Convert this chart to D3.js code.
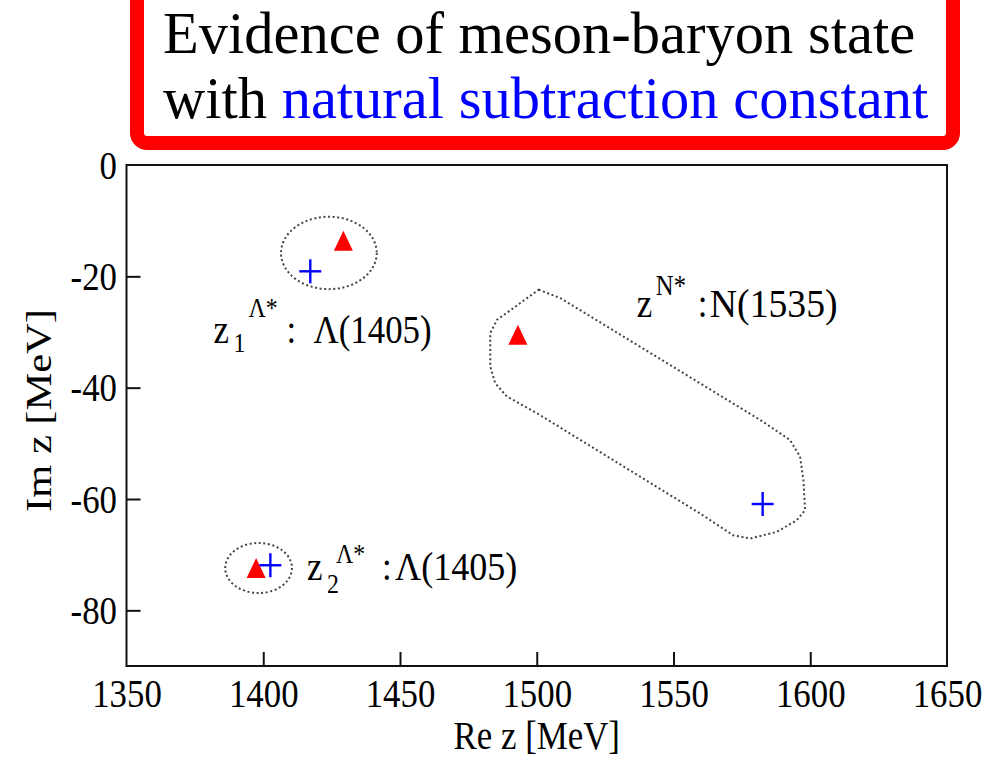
<!DOCTYPE html>
<html>
<head>
<meta charset="utf-8">
<script src="https://cdn.jsdelivr.net/npm/d3@7"></script>
<style>
  html, body { margin: 0; padding: 0; background: #fff; }
  svg { display: block; }
  text { font-family: "Liberation Serif", "Times New Roman", serif; fill: #000; }
</style>
</head>
<body>
<svg id="chart" width="1002" height="757"></svg>
<script>
// Axis ticks
const xTicks = [1350, 1400, 1450, 1500, 1550, 1600, 1650];
const yTicks = [0, -20, -40, -60, -80];

// Pole positions, full model (red triangles) [MeV]
const triRe = [1429.3, 1493.1, 1397.4];
const triIm = [-13.6, -30.5, -72.4];

// Pole positions, natural subtraction constant (blue crosses) [MeV]
const crossRe = [1417.2, 1582.6, 1402.6];
const crossIm = [-19.1, -60.9, -71.9];

// Dotted ellipses grouping the Λ(1405) poles: centre Re, centre Im, half-width, half-height [MeV]
const ellipseRe = [1424.0, 1398.3];
const ellipseIm = [-15.8, -72.4];
const ellipseRx = [17.5, 12.2];
const ellipseRy = [6.5, 4.5];

// Dotted contour enclosing the N(1535) poles [Re, Im] in MeV
const contourRe = [1500.7, 1508.6, 1581.7, 1592.6, 1596.3, 1597.5, 1598.1, 1595.1, 1587.8,
                   1578.0, 1571.8, 1559.7, 1500.1, 1489.1, 1484.8, 1483.0, 1483.0, 1485.5, 1494.0];
const contourIm = [-22.4, -23.9, -45.8, -49.4, -52.4, -56.6, -62.0, -63.8, -65.9,
                   -67.1, -66.5, -62.6, -44.6, -41.6, -39.2, -36.2, -30.2, -27.8, -24.8];

// Pole labels: anchor Re, anchor Im (baseline), subscript, superscript, resonance
const labelRe = [1381.8, 1416.0, 1536.6];
const labelIm = [-32.0, -74.5, -27.25];
const labelSub = ["1", "2", ""];
const labelSup = ["Λ*", "Λ*", "N*"];
const labelName = ["Λ(1405)", "Λ(1405)", "N(1535)"];

const svg = d3.select("#chart");
const sx = 0.85; // horizontal squeeze of the serif glyphs

const x = d3.scaleLinear().domain([1350, 1650]).range([126.5, 947]);
const y = d3.scaleLinear().domain([-90, 0]).range([666, 165]);

// ---- Title box ----
svg.append("rect")
  .attr("x", 137).attr("y", -30)
  .attr("width", 816).attr("height", 173)
  .attr("rx", 10)
  .attr("fill", "#fff")
  .attr("stroke", "#ff0000")
  .attr("stroke-width", 14);

const title = svg.append("g").style("font-size", "58.5px");
title.append("text").attr("x", 163).attr("y", 53).text("Evidence of meson-baryon state");
const t2 = title.append("text").attr("x", 163).attr("y", 118);
t2.append("tspan").text("with ");
t2.append("tspan").style("fill", "#0000ff").text("natural subtraction constant");

// ---- Axes ----
const fmt = d => String(d);
const gx = svg.append("g").attr("transform", `translate(0,${y(-90)})`)
  .call(d3.axisBottom(x).tickValues(xTicks).tickSize(-14).tickPadding(12).tickFormat(fmt));
const gy = svg.append("g").attr("transform", `translate(${x(1350)},0)`)
  .call(d3.axisLeft(y).tickValues(yTicks).tickSize(-14).tickPadding(9.5).tickFormat(fmt));

[gx, gy].forEach(g => {
  g.select(".domain").remove();
  g.selectAll(".tick line").attr("stroke", "#111").attr("stroke-width", 2);
  g.selectAll(".tick text")
    .attr("fill", "#000")
    .style("font-size", "41px")
    .style("font-family", "'Liberation Serif', 'Times New Roman', serif")
    .each(function () {
      const t = d3.select(this);
      const tx = +t.attr("x") || 0;
      t.attr("x", 0).attr("transform", `translate(${tx},0) scale(${sx},1)`);
    });
});
// hide the tick marks that sit on the frame corners
gx.selectAll(".tick").filter(d => d === 1350 || d === 1650).select("line").remove();
gy.selectAll(".tick").filter(d => d === 0).select("line").remove();

// Frame
svg.append("rect")
  .attr("x", x(1350)).attr("y", y(0))
  .attr("width", x(1650) - x(1350)).attr("height", y(-90) - y(0))
  .attr("fill", "none").attr("stroke", "#111").attr("stroke-width", 2);

// Axis titles
svg.append("text")
  .attr("text-anchor", "middle")
  .attr("transform", `translate(${(x(1350) + x(1650)) / 2},749) scale(${sx},1)`)
  .style("font-size", "41px")
  .text("Re z [MeV]");

svg.append("text")
  .attr("text-anchor", "middle")
  .attr("transform", `translate(51,${(y(0) + y(-90)) / 2 - 5}) rotate(-90) scale(1.18,1)`)
  .style("font-size", "36px")
  .text("Im z [MeV]");

// ---- Dotted groupings ----
const dotted = g => g.attr("fill", "none").attr("stroke", "#444")
  .attr("stroke-width", 2).attr("stroke-dasharray", "2,2.6");

svg.append("g").selectAll("ellipse")
  .data(ellipseRe.map((r, i) => ({ re: r, im: ellipseIm[i], rx: ellipseRx[i], ry: ellipseRy[i] })))
  .join("ellipse")
  .attr("cx", d => x(d.re)).attr("cy", d => y(d.im))
  .attr("rx", d => x(d.re + d.rx) - x(d.re))
  .attr("ry", d => y(d.im - d.ry) - y(d.im))
  .call(dotted);

const contour = contourRe.map((r, i) => [r, contourIm[i]]);
svg.append("path")
  .datum(contour)
  .attr("d", d3.line().x(d => x(d[0])).y(d => y(d[1])).curve(d3.curveLinearClosed))
  .call(dotted);

// ---- Poles ----
const tri = (hw, h) => `M0,${-h / 2}L${hw},${h / 2}L${-hw},${h / 2}Z`;
svg.append("g").selectAll("path")
  .data(triRe.map((r, i) => ({ re: r, im: triIm[i] })))
  .join("path")
  .attr("transform", d => `translate(${x(d.re)},${y(d.im)})`)
  .attr("d", tri(9.5, 20))
  .attr("fill", "#ff0000");

const crosses = svg.append("g").selectAll("g")
  .data(crossRe.map((r, i) => ({ re: r, im: crossIm[i] })))
  .join("g")
  .attr("transform", d => `translate(${x(d.re)},${y(d.im)})`)
  .attr("stroke", "#0000ff").attr("stroke-width", 2.4);
crosses.append("line").attr("x1", -11).attr("x2", 11);
crosses.append("line").attr("y1", -12).attr("y2", 12);

// ---- Pole labels ----
const subDy = [9, 13, 0];
const supDy = [-26, -17, -22];
const supDx = [35, 29, 19];
const colonDx = [73, 75, 61];
const nameDx = [100, 88, 73];
const nameSx = [0.85, 0.88, 0.92];
const supSize = [28, 28, 29];

labelRe.forEach((re, i) => {
  const g = svg.append("g").attr("transform", `translate(${x(re)},${y(labelIm[i])})`);
  const put = (dx, dy, size, str, k = sx) =>
    g.append("text")
      .attr("transform", `translate(${dx},${dy}) scale(${k},1)`)
      .style("font-size", size + "px")
      .text(str);
  put(0, 0, 41, "z");
  if (labelSub[i]) put(20, subDy[i], 28, labelSub[i]);
  put(supDx[i], supDy[i], supSize[i], labelSup[i]);
  put(colonDx[i], 0, 41, ":");
  put(nameDx[i], 0, 41, labelName[i], nameSx[i]);
});
</script>
</body>
</html>
